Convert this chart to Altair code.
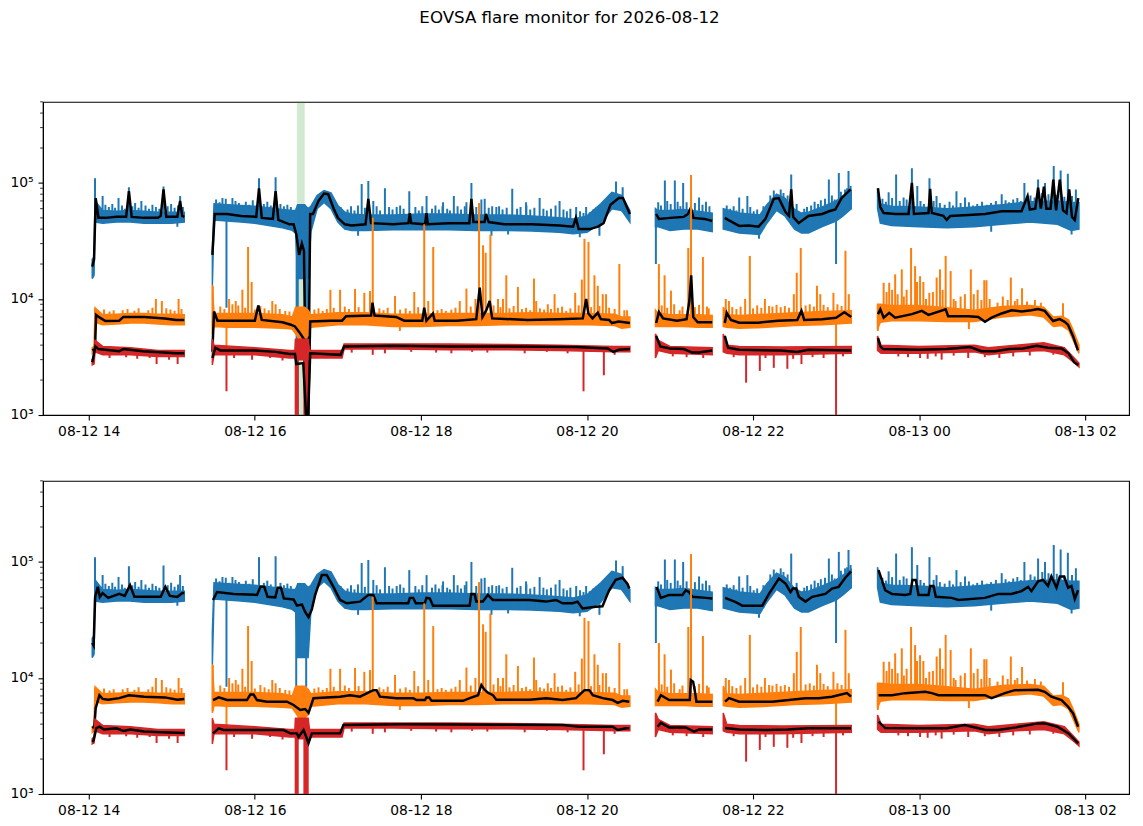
import numpy as np
import pandas as pd
import altair as alt

# ---------------------------------------------------------------- data ----
# times are minutes after 2026-08-12 14:00 (local), values in counts
T0 = pd.Timestamp("2026-08-12 14:00:00")
TITLE = "EOVSA flare monitor for 2026-08-12"
XLIM = [-33.15, 751.7]
X_TICKS = [0, 120, 240, 360, 480, 600, 720]
YLIM = [1e3, 5e5]
Y_MAJOR = [1e3, 1e4, 1e5]
Y_MINOR = [2e3, 3e3, 4e3, 5e3, 6e3, 7e3, 8e3, 9e3,
           2e4, 3e4, 4e4, 5e4, 6e4, 7e4, 8e4, 9e4,
           2e5, 3e5, 4e5, 5e5]
SEG_BREAKS = [80, 400, 455, 560]
SPAN = [150.6, 155.9]

# ---- blue (highest channel) envelope
blue_band_t = [2.5, 3.8, 4.5, 10, 20, 30, 40, 50, 60, 69,
               89.3, 90.5, 100, 110, 120, 130, 140, 147, 149.5, 151, 156, 158.5, 160.5, 165, 170, 175, 180, 185, 190,
               200, 220, 240, 260, 280, 300, 320, 340, 350, 360, 370, 378, 385, 391,
               409.5, 411, 420, 430, 440, 450.5,
               458.5, 470, 485, 490, 497, 503, 510, 515, 520, 530, 540, 545, 551,
               570, 572, 580, 600, 620, 640, 660, 680, 700, 710, 715.5]
blue_lo = [1.5e4, 1.6e4, 4.6e4, 4.5e4, 4.6e4, 4.6e4, 4.5e4, 4.5e4, 4.5e4, 4.6e4,
           1.3e4, 4.8e4, 4.7e4, 4.6e4, 4.5e4, 4.3e4, 4.1e4, 3.9e4, 3.7e4, 1.5e4, 1.5e4, 1.5e4, 3.8e4, 6.0e4, 6.8e4, 6.0e4, 4.6e4, 4.0e4, 3.9e4,
           3.9e4, 3.95e4, 3.95e4, 3.95e4, 3.9e4, 3.9e4, 3.85e4, 3.75e4, 3.65e4, 3.75e4, 4.5e4, 6.0e4, 5.8e4, 4.6e4,
           4.2e4, 4.2e4, 3.9e4, 4.0e4, 4.0e4, 3.8e4,
           4.0e4, 3.7e4, 3.6e4, 4.5e4, 5.8e4, 5.2e4, 4.0e4, 3.7e4, 3.7e4, 4.2e4, 4.7e4, 5.2e4, 6.0e4,
           6.0e4, 4.5e4, 4.3e4, 4.2e4, 4.1e4, 4.2e4, 4.4e4, 4.6e4, 4.4e4, 3.9e4, 4.0e4]
blue_hi = [2.2e4, 2.3e4, 7.0e4, 5.8e4, 5.7e4, 5.8e4, 5.7e4, 5.6e4, 5.6e4, 5.6e4,
           2.5e4, 6.6e4, 6.5e4, 6.4e4, 6.3e4, 6.1e4, 5.9e4, 5.8e4, 5.8e4, 6.5e4, 6.5e4, 6.0e4, 6.3e4, 7.8e4, 8.6e4, 8.2e4, 6.4e4, 5.6e4, 5.4e4,
           5.3e4, 5.3e4, 5.4e4, 5.4e4, 5.3e4, 5.3e4, 5.2e4, 5.0e4, 4.9e4, 5.2e4, 6.6e4, 8.3e4, 7.8e4, 5.8e4,
           6.0e4, 5.8e4, 5.8e4, 5.9e4, 5.7e4, 5.5e4,
           6.0e4, 5.5e4, 5.3e4, 6.5e4, 8.0e4, 7.4e4, 5.9e4, 5.5e4, 5.6e4, 6.2e4, 7.0e4, 7.7e4, 8.6e4,
           9.0e4, 6.6e4, 6.3e4, 6.2e4, 6.0e4, 6.2e4, 6.5e4, 6.9e4, 7.0e4, 6.8e4, 6.8e4]
blue_spike_t = [4.5, 10, 21.5, 29, 38, 54, 66,
                96.6, 103.8, 111, 123, 135, 151.8, 197.2, 202, 205.6, 214, 222.5, 231.6, 244.1, 256, 263.8, 272.9,
                276.5, 283.7, 294.5, 306, 316, 325.8, 340.2, 352.2, 359.4, 381, 385.8,
                416.3, 423.5, 429.5, 441,
                470, 475.9, 507.6, 534.8, 542, 549,
                578, 583.4, 588.8, 594.8, 598.7, 607.5, 612.6, 627, 633.2, 659.7, 676.1, 686, 691, 697.3, 702.3, 707.5, 713.3,
                99.5, 409.8, 540]
blue_spike_v = [1.1e5, 7.7e4, 7.4e4, 9.2e4, 7.0e4, 9.3e4, 7.7e4,
                7.4e4, 7.4e4, 6.3e4, 1.1e5, 1.12e5, 6.6e4, 9.8e4, 1.04e5, 7.0e4, 9.0e4, 6.2e4, 8.5e4, 7.7e4, 6.8e4, 7.7e4, 6.8e4,
                1.0e5, 7.2e4, 6.2e4, 8.9e4, 6.8e4, 7.4e4, 7.0e4, 6.2e4, 6.2e4, 1.03e5, 9.2e4,
                1.05e5, 1.05e5, 1.0e5, 7.5e4,
                7.5e4, 7.7e4, 1.18e5, 1.07e5, 1.22e5, 1.27e5,
                8.3e4, 1.18e5, 7.5e4, 1.34e5, 9.4e4, 1.1e5, 7.7e4, 8.5e4, 7.5e4, 8.0e4, 1.0e5, 1.07e5, 1.0e5, 1.4e5, 1.28e5, 1.2e5, 8.8e4,
                8.4e3, 2.0e4, 2.0e4]
# small excursions that give the blue trace its ragged edges
blue_fuzz_t = [6.5, 8.5, 12, 14.5, 17, 19, 24, 26, 31.5, 33.5, 36, 41, 43.5, 46, 48.5, 51, 57, 59.5, 62, 64.5, 68,
               92, 94.5, 99, 101.5, 106, 108.5, 113.5, 116, 118.5, 126.5, 129, 131.5, 138.5, 141, 143.5, 146,
               182, 187, 189.5, 192, 194.5, 199.5, 208, 210.5, 217, 219.5, 225, 227.5, 236, 238.5, 241, 248, 250.5,
               253, 255.6, 259, 261, 266.5, 269, 271.7, 280, 286.1, 289, 291.5, 296.5, 299, 302, 309.5, 312, 316.2,
               319, 322, 328.5, 331, 334, 337.3, 343, 345.5, 348, 355, 357.5, 362, 364.5, 367,
               411.5, 413.5, 418, 420.5, 425.5, 427.5, 432, 438, 443.5, 446, 448.5,
               461, 463.5, 466, 468, 472.5, 478, 480.5, 483, 487.5, 492.5, 495, 500, 502, 505, 511.5, 517, 519, 522,
               524.5, 527, 529, 532, 537, 539, 543.5, 546.5, 548, 550.5,
               573.5, 576, 580.5, 586, 591, 601, 603.5, 610.5, 615, 618.5, 622, 624.5, 630, 636, 639, 642, 645.5,
               649, 652, 655.5, 662.5, 665, 668, 671, 673.5, 680.5, 683.5, 689, 693.5, 699.5, 705, 710.5,
               64, 194.6, 291, 303, 354.8, 369, 484.3, 652.1, 710.2]
blue_fuzz_v = [6.4e4, 6.0e4, 6.5e4, 6.2e4, 6.6e4, 6.1e4, 6.4e4, 6.0e4, 6.3e4, 6.7e4, 6.1e4, 6.4e4, 6.0e4, 6.5e4, 6.2e4, 6.0e4,
               6.3e4, 6.6e4, 6.1e4, 6.4e4, 6.2e4,
               7.2e4, 6.8e4, 7.3e4, 6.6e4, 7.0e4, 6.7e4, 6.9e4, 6.5e4, 7.1e4, 6.6e4, 6.9e4, 6.4e4, 6.6e4, 6.3e4, 6.5e4, 6.2e4,
               6.2e4, 5.9e4, 6.3e4, 5.8e4, 6.4e4, 6.1e4, 6.3e4, 5.8e4, 6.2e4, 5.9e4, 6.4e4, 6.0e4, 6.2e4, 5.8e4, 6.3e4, 6.0e4, 6.4e4,
               5.9e4, 6.3e4, 6.0e4, 5.8e4, 6.3e4, 5.9e4, 6.3e4, 6.2e4, 7.3e4, 6.1e4, 6.3e4, 6.3e4, 5.9e4, 6.1e4, 6.0e4, 6.2e4, 6.4e4,
               5.9e4, 6.1e4, 6.0e4, 5.8e4, 6.0e4, 6.4e4, 5.9e4, 5.7e4, 6.0e4, 5.7e4, 5.5e4, 5.6e4, 5.9e4, 6.2e4,
               6.8e4, 6.4e4, 7.0e4, 6.6e4, 6.9e4, 6.3e4, 6.8e4, 6.7e4, 6.5e4, 6.9e4, 6.3e4,
               6.4e4, 6.0e4, 6.3e4, 5.8e4, 6.0e4, 6.2e4, 5.7e4, 5.9e4, 6.3e4, 7.8e4, 8.6e4, 8.8e4, 8.2e4, 7.8e4, 6.6e4, 6.0e4, 6.2e4, 6.4e4,
               6.9e4, 6.6e4, 7.1e4, 7.3e4, 7.8e4, 7.2e4, 8.4e4, 8.8e4, 9.0e4, 9.4e4,
               7.3e4, 6.9e4, 7.4e4, 7.0e4, 7.2e4, 7.0e4, 6.6e4, 7.0e4, 6.7e4, 6.5e4, 6.9e4, 6.4e4, 6.7e4, 6.8e4, 6.4e4, 6.6e4, 6.9e4,
               6.5e4, 6.7e4, 7.0e4, 7.1e4, 6.8e4, 7.2e4, 7.4e4, 7.0e4, 7.8e4, 7.5e4, 8.2e4, 8.0e4, 7.9e4, 7.6e4, 7.7e4,
               4.2e4, 3.5e4, 3.5e4, 3.6e4, 3.4e4, 3.5e4, 3.3e4, 3.8e4, 3.6e4]
blue_drop_top_t = [150.2, 151.0, 156.8, 158.0]
blue_drop_top_v = [1e3, 1e3, 1e3, 1e3]
blue_drop_bot_t = [149.9, 157.1]
blue_drop_bot_v = [8.4e3, 8.4e3]

# ---- orange (middle channel) envelope
orange_band_t = [2.5, 3.8, 4.5, 10, 20, 30, 40, 50, 60, 69,
                 89.3, 90.5, 100, 120, 140, 147, 149.5, 152, 156, 158.5, 160.5, 180, 200, 220, 240, 260, 280, 300,
                 320, 340, 360, 380, 385, 391,
                 409.5, 411, 420, 430, 440, 450.5,
                 458.5, 461, 470, 490, 510, 530, 551,
                 570, 572, 580, 600, 620, 640, 660, 680, 690, 697, 703, 708, 711, 715.5]
orange_lo = [3.4e3, 3.5e3, 6.3e3, 6.0e3, 6.1e3, 6.2e3, 6.2e3, 6.1e3, 6.0e3, 6.0e3,
             5.0e3, 5.8e3, 5.7e3, 5.7e3, 5.6e3, 5.5e3, 5.0e3, 4.5e3, 4.5e3, 4.8e3, 5.7e3, 6.0e3, 6.0e3, 5.8e3, 5.8e3, 5.9e3, 5.9e3, 6.0e3,
             6.0e3, 6.0e3, 6.0e3, 5.9e3, 5.6e3, 5.7e3,
             5.8e3, 5.8e3, 5.8e3, 5.8e3, 5.7e3, 5.7e3,
             5.8e3, 5.7e3, 5.6e3, 5.7e3, 5.9e3, 6.0e3, 6.2e3,
             5.5e3, 6.3e3, 6.5e3, 6.5e3, 6.4e3, 6.4e3, 7.0e3, 7.3e3, 7.0e3, 5.8e3, 5.9e3, 5.4e3, 4.5e3, 3.4e3]
orange_hi = [3.8e3, 3.9e3, 8.4e3, 7.3e3, 7.4e3, 7.5e3, 7.5e3, 7.4e3, 7.4e3, 7.3e3,
             1.3e4, 7.5e3, 7.5e3, 7.5e3, 7.3e3, 7.0e3, 8.5e3, 8.5e3, 8.5e3, 8.0e3, 7.3e3, 7.6e3, 7.6e3, 7.4e3, 7.4e3, 7.5e3, 7.5e3, 7.5e3,
             7.6e3, 7.5e3, 7.5e3, 7.4e3, 7.0e3, 7.0e3,
             8.0e3, 7.6e3, 7.3e3, 7.3e3, 7.3e3, 7.2e3,
             8.5e3, 7.3e3, 7.2e3, 7.4e3, 7.6e3, 7.8e3, 7.9e3,
             9.0e3, 9.0e3, 8.8e3, 8.8e3, 8.4e3, 8.0e3, 8.6e3, 8.8e3, 8.5e3, 7.0e3, 7.1e3, 6.6e3, 5.5e3, 4.0e3]
orange_spike_t = [4.5, 24.5, 48.5, 52.8, 56, 64.9,
                  89.6, 101.4, 103.8, 106.2, 111, 115.1, 117.7, 132.6, 135, 174.6, 181.6, 192.4, 199.1, 203.2, 205.2,
                  221.3, 235.2, 242.4, 245.3, 248.9, 268.1, 272.9, 279.4, 282, 284.9, 286.8, 290.2, 295.7, 299.3, 301.7,
                  310.1, 321.7, 323.3, 331.7, 336.6, 345, 351.5, 356.3, 358.2, 361.1, 365.4, 367.8, 371.4, 373.8, 383.4, 387,
                  412, 416.1, 420.7, 427, 433.2, 435.2, 443.8, 446.7,
                  460.3, 462.6, 474.3, 477.7, 488.6, 491.6, 509.5, 511.6, 514.5, 526.2, 528.6, 538.1, 546.8, 549.2,
                  574.4, 578.4, 582.7, 587.5, 594.2, 597.1, 600.7, 603.1, 607.4, 612.7, 615.1, 619.2, 622.8, 626.4,
                  633.1, 637.4, 642.3, 647.1, 648.7, 656.7, 666.3, 669.2, 674.4,
                  576.5, 580.5, 584.5, 589, 591, 598.5, 605, 610, 617, 625, 630, 639.5, 645, 651, 660.5, 664, 671, 678,
                  683.7, 688, 704,
                  99.5, 224.8, 540, 570.2, 636]
orange_spike_v = [8.2e3, 8.0e3, 1.0e4, 9.6e3, 8.3e3, 1.0e4,
                  1.3e4, 1.0e4, 9.0e3, 9.6e3, 1.2e4, 2.8e4, 1.4e4, 9.6e3, 9.0e3, 1.2e4, 1.2e4, 1.22e4, 1.13e4, 1.17e4, 5.0e4,
                  1.06e4, 1.15e4, 4.4e4, 9.6e3, 2.8e4, 9.6e3, 1.23e4, 1.0e4, 6.7e4, 2.9e4, 2.5e4, 3.6e4, 1.0e4, 1.0e4, 1.6e4,
                  1.27e4, 1.5e4, 9.6e3, 9.0e3, 1.1e4, 7.9e3, 1.13e4, 1.47e4, 3.3e4, 3.1e4, 1.6e4, 1.3e4, 1.1e4, 1.1e4, 2.0e4, 8.0e3,
                  2.0e4, 1.6e4, 1.18e4, 8.0e3, 2.75e4, 1.17e5, 2.3e4, 8.6e3,
                  1.0e4, 9.6e3, 1.0e4, 2.35e4, 1.0e4, 8.7e3, 1.1e4, 1.68e4, 2.75e4, 1.3e4, 1.1e4, 1.13e4, 2.6e4, 1.1e4,
                  1.38e4, 1.38e4, 1.63e4, 1.8e4, 2.75e4, 1.92e4, 1.57e4, 1.4e4, 1.13e4, 1.53e4, 1.8e4, 2.35e4, 1.74e4, 9.6e3,
                  1.1e4, 1.8e4, 1.2e4, 1.45e4, 1.45e4, 9.3e3, 1.53e4, 9.6e3, 1.24e4,
                  1.15e4, 1.2e4, 1.1e4, 1.05e4, 1.2e4, 1.4e4, 1.0e4, 1.15e4, 1.2e4, 1.0e4, 1.05e4, 1.1e4, 9.8e3, 1.0e4, 1.05e4,
                  9.8e3, 1.0e4, 9.5e3, 9.8e3, 9.3e3, 9.2e3,
                  3.35e3, 5.3e3, 3.8e3, 5.3e3, 5.5e3]
# small excursions along the orange trace
orange_fuzz_t = [7, 11, 15, 18, 28, 33, 36, 43, 46, 59, 62, 67,
                 95, 98, 108, 113, 120, 124, 127, 130, 138, 142, 145, 163, 166, 169, 172, 177, 185, 188, 195, 210, 213,
                 216, 225, 229, 232, 238, 252, 255, 258, 262, 265, 276, 292.5, 297.5, 304, 307, 313, 316, 319, 326, 329,
                 334, 339, 342, 348, 354, 363, 369, 376, 380, 389,
                 414, 418, 423, 429, 438, 441, 448,
                 465, 468, 471, 480, 483, 486, 494, 497, 500, 503, 506, 518, 521, 524, 531, 534, 541, 544]
orange_fuzz_v = [7.9e3, 8.1e3, 7.8e3, 8.0e3, 8.2e3, 7.9e3, 8.3e3, 8.0e3, 8.4e3, 8.1e3, 7.9e3, 8.2e3,
                 8.6e3, 8.2e3, 8.8e3, 8.4e3, 8.1e3, 8.7e3, 8.3e3, 8.0e3, 8.2e3, 7.9e3, 7.8e3, 8.1e3, 8.3e3, 7.9e3, 8.2e3, 8.4e3,
                 8.6e3, 8.2e3, 8.5e3, 8.3e3, 8.0e3, 8.4e3, 8.1e3, 8.3e3, 7.9e3, 8.5e3, 8.0e3, 8.2e3, 7.9e3, 8.1e3, 8.4e3, 8.6e3,
                 8.8e3, 8.5e3, 8.3e3, 8.7e3, 8.2e3, 8.4e3, 8.0e3, 8.3e3, 8.1e3, 8.2e3, 8.4e3, 8.6e3, 8.3e3, 8.8e3, 8.5e3, 8.7e3,
                 8.4e3, 8.2e3, 8.0e3,
                 8.8e3, 8.4e3, 9.0e3, 8.6e3, 8.5e3, 8.9e3, 8.3e3,
                 8.5e3, 8.2e3, 8.6e3, 8.3e3, 8.8e3, 8.4e3, 8.6e3, 8.9e3, 8.5e3, 8.7e3, 8.4e3, 8.8e3, 9.0e3, 8.6e3, 8.9e3,
                 8.5e3, 9.0e3, 8.7e3]

# ---- red (lowest channel) envelope
red_band_t = [2.5, 3.8, 4.5, 10, 30, 50, 69,
              89.3, 90.5, 120, 145, 149, 149.5, 158.5, 159.5, 170, 183, 184.5, 220, 260, 300, 340, 380, 391,
              409.5, 411.5, 420, 450.5,
              458.5, 461, 470, 500, 551,
              570, 572.5, 600, 640, 650, 670, 690, 705, 711, 715.5]
red_lo = [2.7e3, 2.75e3, 3.5e3, 3.3e3, 3.3e3, 3.2e3, 3.2e3,
          2.7e3, 3.3e3, 3.3e3, 3.1e3, 3.1e3, 3.0e3, 3.0e3, 3.1e3, 3.1e3, 3.1e3, 3.7e3, 3.7e3, 3.65e3, 3.65e3, 3.6e3, 3.5e3, 3.5e3,
          3.1e3, 3.6e3, 3.4e3, 3.3e3,
          3.5e3, 3.4e3, 3.3e3, 3.3e3, 3.4e3,
          3.6e3, 3.4e3, 3.4e3, 3.5e3, 3.3e3, 3.5e3, 3.6e3, 3.3e3, 2.9e3, 2.6e3]
red_hi = [3.0e3, 3.1e3, 4.4e3, 3.9e3, 3.8e3, 3.6e3, 3.6e3,
          4.5e3, 4.0e3, 3.8e3, 3.6e3, 3.6e3, 4.5e3, 4.5e3, 3.6e3, 3.6e3, 3.6e3, 4.1e3, 4.1e3, 4.1e3, 4.05e3, 4.0e3, 3.9e3, 3.9e3,
          5.0e3, 4.4e3, 3.9e3, 3.8e3,
          5.0e3, 4.0e3, 3.9e3, 3.85e3, 3.9e3,
          4.8e3, 4.0e3, 3.9e3, 4.0e3, 3.8e3, 4.0e3, 4.2e3, 3.8e3, 3.2e3, 2.8e3]
red_spike_t = [49, 64.2, 99.5, 149.5, 150.3, 151, 155.8, 156.6, 157.4, 158.2, 205.2, 357.5, 372.2,
               475, 484.9, 495, 504.8, 515, 540, 600.7, 606.2, 616.3, 635.5, 647.5,
               15, 27, 35, 44, 58, 105, 118, 131, 140, 190, 214, 233, 251, 262, 277, 288, 315, 331, 346, 380,
               422, 432, 444, 466, 489, 509, 523, 531, 545, 585, 592, 612, 625, 658, 668, 680, 697]
red_spike_v = [2.75e3, 2.75e3, 1.6e3, 1e3, 1e3, 1e3, 1e3, 1e3, 1e3, 1e3, 3.3e3, 1.6e3, 2.2e3,
               1.9e3, 2.4e3, 2.55e3, 2.5e3, 2.75e3, 1e3, 3.1e3, 3.05e3, 3.0e3, 3.1e3, 3.15e3,
               3.1e3, 3.15e3, 3.05e3, 3.1e3, 3.0e3, 3.1e3, 3.0e3, 3.1e3, 2.95e3, 3.45e3, 3.4e3, 3.5e3, 3.45e3, 3.4e3, 3.5e3, 3.45e3,
               3.4e3, 3.5e3, 3.4e3, 3.3e3,
               3.2e3, 3.15e3, 3.1e3, 3.15e3, 3.1e3, 3.05e3, 3.15e3, 3.1e3, 3.2e3, 3.2e3, 3.15e3, 3.2e3, 3.25e3, 3.1e3, 3.2e3,
               3.25e3, 3.3e3]

# ---- smoothed curves, upper panel
kb_top_t = [2.5, 3.8, 5, 7, 12, 20, 27, 29, 31, 40, 50, 52, 54, 56, 64, 66, 67.5, 69,
            89.3, 91, 100, 110, 121, 123, 125, 133, 135, 137, 145, 148, 150, 152, 154, 155.5, 157, 158.5, 160, 162, 166,
            170, 173, 177, 180, 185, 190, 200, 202, 204, 220, 231, 232, 233, 243, 244, 245, 260, 275, 276.5, 278, 286,
            287, 289, 300, 320, 340, 350, 352, 354, 362, 368, 372, 377, 383, 386, 391,
            410, 412, 420, 430, 433, 435, 437, 445, 450.5,
            459.6, 462, 470, 477, 484, 489, 495, 498.6, 503.5, 506, 507.6, 509, 513, 520, 525, 530, 535, 539.5, 544, 550.5,
            570.3, 572, 574.4, 582.8, 592.4, 594.8, 596.3, 606.8, 608, 609.2, 617.6, 620, 622.5, 635.7, 647.7, 659.7, 674,
            678.4, 680, 684, 686, 688, 690.2, 692, 695, 697, 699, 701.7, 704, 706.5, 708.5, 710.5, 712.5, 715]
kb_top_v = [1.9e4, 2.2e4, 7.4e4, 5.0e4, 5.0e4, 5.1e4, 5.1e4, 8.5e4, 5.1e4, 5.0e4, 5.0e4, 5.2e4, 8.8e4, 5.1e4, 5.1e4, 7.0e4, 5.2e4, 5.1e4,
            2.4e4, 5.4e4, 5.4e4, 5.2e4, 5.1e4, 9.0e4, 5.0e4, 4.9e4, 8.5e4, 4.8e4, 4.4e4, 4.4e4, 3.6e4, 2.4e4, 3.0e4, 2.6e4, 1e3, 1e3, 5.4e4, 5.4e4, 7.0e4,
            8.1e4, 8.0e4, 6.0e4, 5.0e4, 4.4e4, 4.3e4, 4.4e4, 7.3e4, 4.5e4, 4.4e4, 4.5e4, 5.5e4, 4.5e4, 4.4e4, 5.5e4, 4.4e4, 4.5e4, 4.5e4, 7.3e4, 4.6e4, 4.6e4,
            5.4e4, 4.6e4, 4.4e4, 4.4e4, 4.3e4, 4.2e4, 5.0e4, 4.0e4, 4.0e4, 4.2e4, 4.5e4, 6.5e4, 7.4e4, 7.4e4, 5.4e4,
            5.4e4, 4.9e4, 5.0e4, 5.1e4, 5.4e4, 6.1e4, 5.0e4, 4.9e4, 4.7e4,
            5.0e4, 4.8e4, 4.26e4, 4.3e4, 4.2e4, 4.9e4, 7.3e4, 7.4e4, 5.6e4, 5.2e4, 8.8e4, 5.1e4, 4.5e4, 5.2e4, 5.3e4, 5.4e4, 5.7e4, 5.9e4, 7.4e4, 8.8e4,
            9.0e4, 6.2e4, 5.5e4, 5.4e4, 5.4e4, 1.0e5, 5.4e4, 5.5e4, 8.9e4, 5.5e4, 5.2e4, 4.8e4, 5.2e4, 5.3e4, 5.4e4, 5.7e4, 5.7e4,
            7.7e4, 5.9e4, 6.0e4, 9.1e4, 6.0e4, 9.3e4, 6.0e4, 6.0e4, 1.07e5, 5.8e4, 1.07e5, 5.8e4, 5.5e4, 8.8e4, 5.1e4, 4.8e4, 7.4e4]
ko_top_t = [2.5, 4.5, 5.3, 8, 12, 22, 25, 40, 55, 63, 69,
            89.3, 90.5, 93, 110, 120, 122.5, 125, 140, 146, 149, 152, 155.5, 157, 158.5, 160, 175, 183, 186, 204, 205,
            206.5, 222, 228, 241, 242.4, 244, 248.7, 250, 266, 280, 282.5, 284.5, 287.3, 289.7, 291.5, 317, 340, 357,
            359.4, 361, 364, 367.8, 370, 376, 378, 383, 391,
            410, 412, 415, 425, 432, 434, 435.3, 436.8, 440, 450.5,
            459.6, 461, 464, 470, 484, 498, 512, 515, 517, 530, 540, 546, 551,
            570.3, 572, 574.4, 578.4, 582.7, 594.8, 602, 606.8, 619.2, 621, 635.7, 642.8, 647.6, 652.4, 659.6, 666.8,
            674, 681.2, 686, 690.8, 694.4, 696.8, 701.6, 705.2, 707.6, 711.2, 714.8]
ko_top_v = [3.6e3, 3.7e3, 7.3e3, 6.9e3, 6.45e3, 6.5e3, 7.0e3, 7.0e3, 6.8e3, 6.6e3, 6.6e3,
            3.5e3, 7.8e3, 6.5e3, 6.5e3, 6.5e3, 8.8e3, 6.6e3, 6.3e3, 6.0e3, 5.8e3, 5.2e3, 4.5e3, 1e3, 1e3, 6.4e3, 6.5e3, 6.5e3, 7.1e3, 7.2e3, 9.3e3,
            7.2e3, 7.0e3, 6.5e3, 6.5e3, 8.4e3, 6.5e3, 7.5e3, 6.5e3, 6.5e3, 6.7e3, 1.25e4, 7.0e3, 8.0e3, 9.6e3, 6.8e3, 6.6e3, 6.7e3, 6.8e3,
            1.0e4, 7.5e3, 6.8e3, 7.6e3, 6.7e3, 6.6e3, 6.2e3, 6.4e3, 6.2e3,
            6.2e3, 7.7e3, 6.8e3, 6.5e3, 6.7e3, 9.6e3, 1.6e4, 7.0e3, 6.3e3, 6.3e3,
            6.2e3, 7.6e3, 6.6e3, 6.25e3, 6.25e3, 6.5e3, 6.6e3, 7.9e3, 6.6e3, 6.7e3, 6.9e3, 7.7e3, 7.0e3,
            7.4e3, 8.15e3, 6.9e3, 7.6e3, 6.9e3, 7.4e3, 7.9e3, 7.3e3, 8.15e3, 7.1e3, 7.1e3, 7.0e3, 6.35e3, 6.9e3, 7.5e3, 8.0e3,
            7.8e3, 8.0e3, 8.2e3, 7.9e3, 7.0e3, 6.45e3, 6.7e3, 6.35e3, 6.0e3, 4.8e3, 3.6e3]
kr_top_t = [2.5, 4.8, 7, 12, 22, 25, 39, 63, 69,
            89.3, 91.5, 95, 120, 135, 145, 149, 150, 155, 157, 158.5, 160, 170, 182, 184.5, 220, 260, 300, 352, 375, 379, 383, 391,
            410, 413, 420, 430, 436, 441, 450.5,
            459.6, 462, 470, 500, 512, 520, 551,
            570.3, 572, 574, 600, 620, 637, 645, 655, 665, 675, 685, 693, 703, 708, 712, 715]
kr_top_v = [2.85e3, 3.9e3, 3.7e3, 3.65e3, 3.55e3, 3.7e3, 3.55e3, 3.4e3, 3.4e3,
            3.1e3, 3.8e3, 3.6e3, 3.6e3, 3.5e3, 3.36e3, 3.36e3, 2.75e3, 2.8e3, 1e3, 1e3, 3.4e3, 3.35e3, 3.3e3, 3.9e3, 3.95e3, 3.9e3, 3.9e3, 3.85e3, 3.75e3, 3.5e3, 3.65e3, 3.7e3,
            4.8e3, 3.9e3, 3.75e3, 3.7e3, 3.45e3, 3.45e3, 3.6e3,
            4.8e3, 3.8e3, 3.65e3, 3.6e3, 3.5e3, 3.65e3, 3.6e3,
            4.6e3, 3.9e3, 3.7e3, 3.65e3, 3.7e3, 3.85e3, 3.55e3, 3.55e3, 3.7e3, 3.75e3, 3.95e3, 3.8e3, 3.75e3, 3.4e3, 2.85e3, 2.7e3]

# ---- smoothed curves, lower panel
kb_bot_t = [2.5, 3.5, 4.6, 6.5, 8, 10, 14, 22, 26, 29.8, 33, 45, 52, 55.3, 58.6, 64, 67.7, 69,
            89.8, 92.7, 104.7, 121.6, 124, 126.8, 129.2, 134.8, 136.5, 138.9, 140.9, 148, 150.4, 154, 156.4, 158.8,
            161.2, 163.6, 168.4, 172, 176.8, 181.6, 186.4, 196, 202, 205.6, 208, 230.8, 232, 234.4, 236.3, 242.8, 244,
            246.4, 248.8, 275.2, 276.4, 278.8, 280, 284.8, 288.4, 292, 318.4, 330.4, 337.6, 342.4, 349.6, 353.2, 356.8,
            366.4, 371.2, 376, 380.8, 385.6, 389.2, 390.6,
            410.3, 413.4, 419.4, 429, 431.4, 433.8, 436.2, 445.8, 450.6,
            459.8, 467.5, 472.3, 486.7, 491.5, 498.7, 503.5, 507.1, 508.8, 511.2, 513.1, 517.9, 522.7, 532.3, 537.1, 541.9, 546.7, 550.8,
            570.7, 575.5, 580.4, 590, 593.6, 595.2, 597.6, 599.6, 606.8, 608, 610.4, 612.1, 623.6, 628.4, 647.6, 657.2,
            666.8, 674, 678.8, 681.2, 686, 689.6, 693.2, 695.6, 699.3, 701.7, 704.8, 707.7, 710.1, 712.5, 714.9]
kb_bot_v = [2.0e4, 1.9e4, 5.0e4, 6.1e4, 5.0e4, 5.4e4, 4.9e4, 5.3e4, 5.1e4, 6.3e4, 5.0e4, 5.0e4, 5.0e4, 6.1e4, 5.1e4, 5.0e4, 5.4e4, 5.4e4,
            4.7e4, 5.5e4, 5.3e4, 5.2e4, 6.1e4, 6.1e4, 5.0e4, 4.95e4, 6.0e4, 6.0e4, 4.85e4, 4.75e4, 4.2e4, 4.3e4, 3.7e4, 3.35e4,
            3.9e4, 5.2e4, 7.7e4, 7.7e4, 6.1e4, 4.7e4, 4.4e4, 4.55e4, 5.2e4, 5.2e4, 4.4e4, 4.4e4, 4.9e4, 4.9e4, 4.4e4, 4.4e4, 4.9e4,
            4.85e4, 4.2e4, 4.2e4, 5.3e4, 5.3e4, 4.55e4, 4.55e4, 5.2e4, 4.7e4, 4.7e4, 4.55e4, 4.7e4, 4.4e4, 4.4e4, 4.55e4, 3.97e4,
            4.1e4, 4.15e4, 5.7e4, 7.0e4, 7.3e4, 6.5e4, 5.9e4,
            6.1e4, 4.9e4, 5.2e4, 5.2e4, 5.7e4, 5.5e4, 5.0e4, 4.9e4, 4.85e4,
            4.9e4, 4.5e4, 4.2e4, 4.2e4, 5.3e4, 7.2e4, 6.5e4, 5.5e4, 5.9e4, 5.9e4, 5.0e4, 4.55e4, 5.0e4, 5.3e4, 5.9e4, 6.1e4, 7.3e4, 8.3e4,
            8.5e4, 5.7e4, 5.3e4, 5.2e4, 5.3e4, 7.0e4, 7.0e4, 5.2e4, 5.2e4, 6.2e4, 6.2e4, 5.0e4, 4.9e4, 4.7e4, 4.9e4, 5.3e4,
            5.3e4, 5.6e4, 6.1e4, 5.6e4, 6.8e4, 7.0e4, 6.2e4, 7.5e4, 6.0e4, 7.5e4, 7.5e4, 6.0e4, 6.2e4, 4.8e4, 5.7e4]
ko_bot_t = [2.5, 4, 5, 7.7, 10, 14, 22, 29, 40, 55, 64, 69,
            89.8, 93.9, 99.9, 114.3, 116.7, 119.1, 121.5, 128.7, 143.2, 148, 152.8, 156.4, 158.8, 162.4, 181.6, 188.8,
            196, 205.6, 208, 210.4, 222.4, 234.4, 236.9, 242.9, 244, 246, 247.7, 270.5, 275.3, 281.3, 283.7, 286.1,
            288.5, 292.1, 294.5, 318.5, 330.5, 342.5, 352.1, 358.2, 361.7, 364.2, 371.4, 378.6, 382.2, 385.8, 390.6,
            411, 413.4, 419.4, 434.3, 435, 436.7, 438.2, 439.1, 450.6,
            459.8, 462.7, 469.9, 493.9, 505.9, 517.9, 527.5, 537.1, 547.9, 550.8,
            570.7, 580.4, 590, 604.4, 609.2, 614, 647.6, 652.4, 662, 669.2, 686, 690.8, 695.6, 702.9, 707.7, 711.3, 714.9]
ko_bot_v = [3.7e3, 3.8e3, 5.5e3, 7.1e3, 6.6e3, 6.5e3, 6.7e3, 7.1e3, 6.9e3, 6.8e3, 6.5e3, 6.6e3,
            6.45e3, 6.8e3, 6.45e3, 6.45e3, 7.2e3, 7.2e3, 6.45e3, 6.25e3, 6.25e3, 5.85e3, 5.3e3, 5.4e3, 5.0e3, 6.7e3, 6.9e3, 7.1e3,
            6.9e3, 7.85e3, 7.85e3, 6.9e3, 6.7e3, 6.7e3, 6.45e3, 6.45e3, 6.8e3, 6.8e3, 6.35e3, 6.35e3, 6.7e3, 7.1e3, 8.7e3, 7.9e3,
            7.45e3, 7.1e3, 6.5e3, 6.5e3, 6.7e3, 6.45e3, 6.7e3, 7.85e3, 7.85e3, 7.1e3, 6.7e3, 6.45e3, 6.1e3, 6.35e3, 6.25e3,
            6.25e3, 7.1e3, 6.45e3, 6.45e3, 9.6e3, 9.3e3, 7.4e3, 6.25e3, 6.25e3,
            6.25e3, 6.7e3, 6.25e3, 6.25e3, 6.45e3, 6.7e3, 6.7e3, 6.9e3, 7.4e3, 6.9e3,
            7.1e3, 7.1e3, 7.4e3, 7.6e3, 7.4e3, 7.1e3, 7.1e3, 6.7e3, 7.4e3, 7.85e3, 7.9e3, 7.6e3, 6.9e3, 6.45e3, 5.65e3, 4.95e3, 3.8e3]
kr_bot_t = [2.5, 3.5, 5.5, 7.7, 11, 20, 25, 30, 40, 52, 69,
            89.8, 93.9, 97.5, 140.7, 145.6, 150.4, 151.6, 155.2, 158.8, 161.2, 181.6, 184, 224.8, 342.5, 354.6, 378.6, 382.2, 388.2, 390.6,
            411, 413.4, 419.4, 431.4, 437.4, 441, 450.6,
            459.8, 470, 490, 505, 520, 550.8,
            570.7, 575.5, 600, 620, 633, 648, 657, 670, 686, 691, 700, 708, 715]
kr_bot_v = [2.82e3, 2.9e3, 3.7e3, 3.8e3, 3.6e3, 3.68e3, 3.5e3, 3.6e3, 3.45e3, 3.4e3, 3.35e3,
            3.33e3, 3.68e3, 3.56e3, 3.56e3, 3.33e3, 3.33e3, 3.1e3, 3.56e3, 2.75e3, 3.33e3, 3.33e3, 3.93e3, 4.0e3, 3.93e3, 3.8e3, 3.8e3, 3.56e3, 3.68e3, 3.68e3,
            3.8e3, 4.1e3, 3.75e3, 3.75e3, 3.45e3, 3.6e3, 3.6e3,
            3.7e3, 3.6e3, 3.56e3, 3.6e3, 3.68e3, 3.68e3,
            4.2e3, 3.7e3, 3.68e3, 3.68e3, 3.93e3, 3.56e3, 3.56e3, 3.75e3, 4.06e3, 4.06e3, 3.8e3, 3.33e3, 2.73e3]

# ------------------------------------------------------------- helpers ----
BLUE, ORANGE, RED, GREEN = "#1f77b4", "#ff7f0e", "#d62728", "#2ca02c"
W, H = 1089, 314


def iso(mins):
    idx = T0 + pd.to_timedelta(np.round(np.asarray(mins, dtype=float) * 60), unit="s")
    return list(idx.strftime("%Y-%m-%dT%H:%M:%S"))


def dt(mins):
    d = T0 + pd.Timedelta(seconds=round(mins * 60))
    return alt.DateTime(year=d.year, month=d.month, date=d.day,
                        hours=d.hour, minutes=d.minute, seconds=d.second)


def segs(mins):
    return [int(sum(m > b for b in SEG_BREAKS)) for m in mins]


def line_df(t, v):
    assert len(t) == len(v), (len(t), len(v))
    return pd.DataFrame({"t": iso(t), "v": v, "seg": segs(t)})


def band_df(t, lo, hi):
    assert len(t) == len(lo) == len(hi), (len(t), len(lo), len(hi))
    return pd.DataFrame({"t": iso(t), "lo": lo, "hi": hi, "seg": segs(t)})


def spike_df(t, v, band_t, lo, hi):
    # each excursion leaves the trace from the edge of its envelope
    assert len(t) == len(v), (len(t), len(v))
    lo_i = 10 ** np.interp(t, band_t, np.log10(lo))
    hi_i = 10 ** np.interp(t, band_t, np.log10(hi))
    v = np.asarray(v, dtype=float)
    base = np.where(v >= lo_i, lo_i, hi_i)
    return pd.DataFrame({"t": iso(t), "v": v, "base": base})


xscale = alt.Scale(domain=[dt(XLIM[0]), dt(XLIM[1])])
xaxis = alt.Axis(values=[dt(m) for m in X_TICKS], format="%m-%d %H", title=None,
                 grid=False, labelFlush=False, labelOverlap=False)
yscale = alt.Scale(type="log", domain=YLIM)
yaxis = alt.Axis(values=Y_MAJOR, title=None, grid=False, labelFlush=False,
                 labelExpr="datum.value == 1000 ? '10³' : datum.value == 10000 ? '10⁴' : '10⁵'")


def X(f="t"):
    return alt.X(f"{f}:T", scale=xscale, axis=xaxis)


def Y(f):
    return alt.Y(f"{f}:Q", scale=yscale, axis=yaxis)


def group(color, band, spikes, black):
    area = alt.Chart(band).mark_area(color=color, opacity=1, stroke=color, strokeWidth=1.5, clip=True).encode(
        x=X(), y=Y("lo"), y2=alt.Y2("hi"), detail="seg:N")
    rule = alt.Chart(spikes).mark_rule(color=color, strokeWidth=2, clip=True).encode(
        x=X(), y=Y("base"), y2=alt.Y2("v"))
    line = alt.Chart(black).mark_line(color="black", strokeWidth=2.5, clip=True).encode(
        x=X(), y=Y("v"), detail="seg:N")
    return [area, rule, line]


def panel(kb, ko, kr, drop_t, drop_v, span):
    layers = []
    if span:
        sdf = pd.DataFrame({"t0": iso([SPAN[0]]), "t1": iso([SPAN[1]])})
        layers.append(alt.Chart(sdf).mark_rect(color=GREEN, opacity=0.22, stroke=GREEN,
                                               strokeOpacity=0.3, strokeWidth=1.5).encode(
            x=X("t0"), x2=alt.X2("t1")))
    layers += group(BLUE, band_df(blue_band_t, blue_lo, blue_hi),
                    spike_df(blue_spike_t + blue_fuzz_t + drop_t, blue_spike_v + blue_fuzz_v + drop_v,
                             blue_band_t, blue_lo, blue_hi), kb)
    layers += group(ORANGE, band_df(orange_band_t, orange_lo, orange_hi),
                    spike_df(orange_spike_t + orange_fuzz_t, orange_spike_v + orange_fuzz_v,
                             orange_band_t, orange_lo, orange_hi), ko)
    layers += group(RED, band_df(red_band_t, red_lo, red_hi),
                    spike_df(red_spike_t, red_spike_v, red_band_t, red_lo, red_hi), kr)
    minor = alt.Chart(pd.DataFrame({"v": Y_MINOR})).mark_rule(color="black", strokeWidth=0.8, clip=False).encode(
        y=Y("v"), x=alt.value(0), x2=alt.value(-2.8))
    layers.append(minor)
    return alt.layer(*layers).properties(width=W, height=H)


top = panel(line_df(kb_top_t, kb_top_v), line_df(ko_top_t, ko_top_v), line_df(kr_top_t, kr_top_v),
            blue_drop_top_t, blue_drop_top_v, True)
bottom = panel(line_df(kb_bot_t, kb_bot_v), line_df(ko_bot_t, ko_bot_v), line_df(kr_bot_t, kr_bot_v),
               blue_drop_bot_t, blue_drop_bot_v, False)

chart = alt.vconcat(top, bottom, spacing=40).properties(
    title=alt.TitleParams(TITLE, anchor="middle", offset=74),
    padding={"left": 1, "top": 1, "right": 5, "bottom": 5},
).configure_view(
    stroke="black", strokeWidth=1.1
).configure_axis(
    domainColor="black", domainWidth=1.1, tickColor="black", tickWidth=1.1, tickSize=4.9,
    labelColor="black", labelFont="DejaVu Sans", labelFontSize=13.9, labelPadding=4.9,
).configure_title(
    font="DejaVu Sans", fontSize=16.7, fontWeight="normal", color="black"
)

chart.save("out.html", embed_options={"renderer": "svg", "actions": False})
